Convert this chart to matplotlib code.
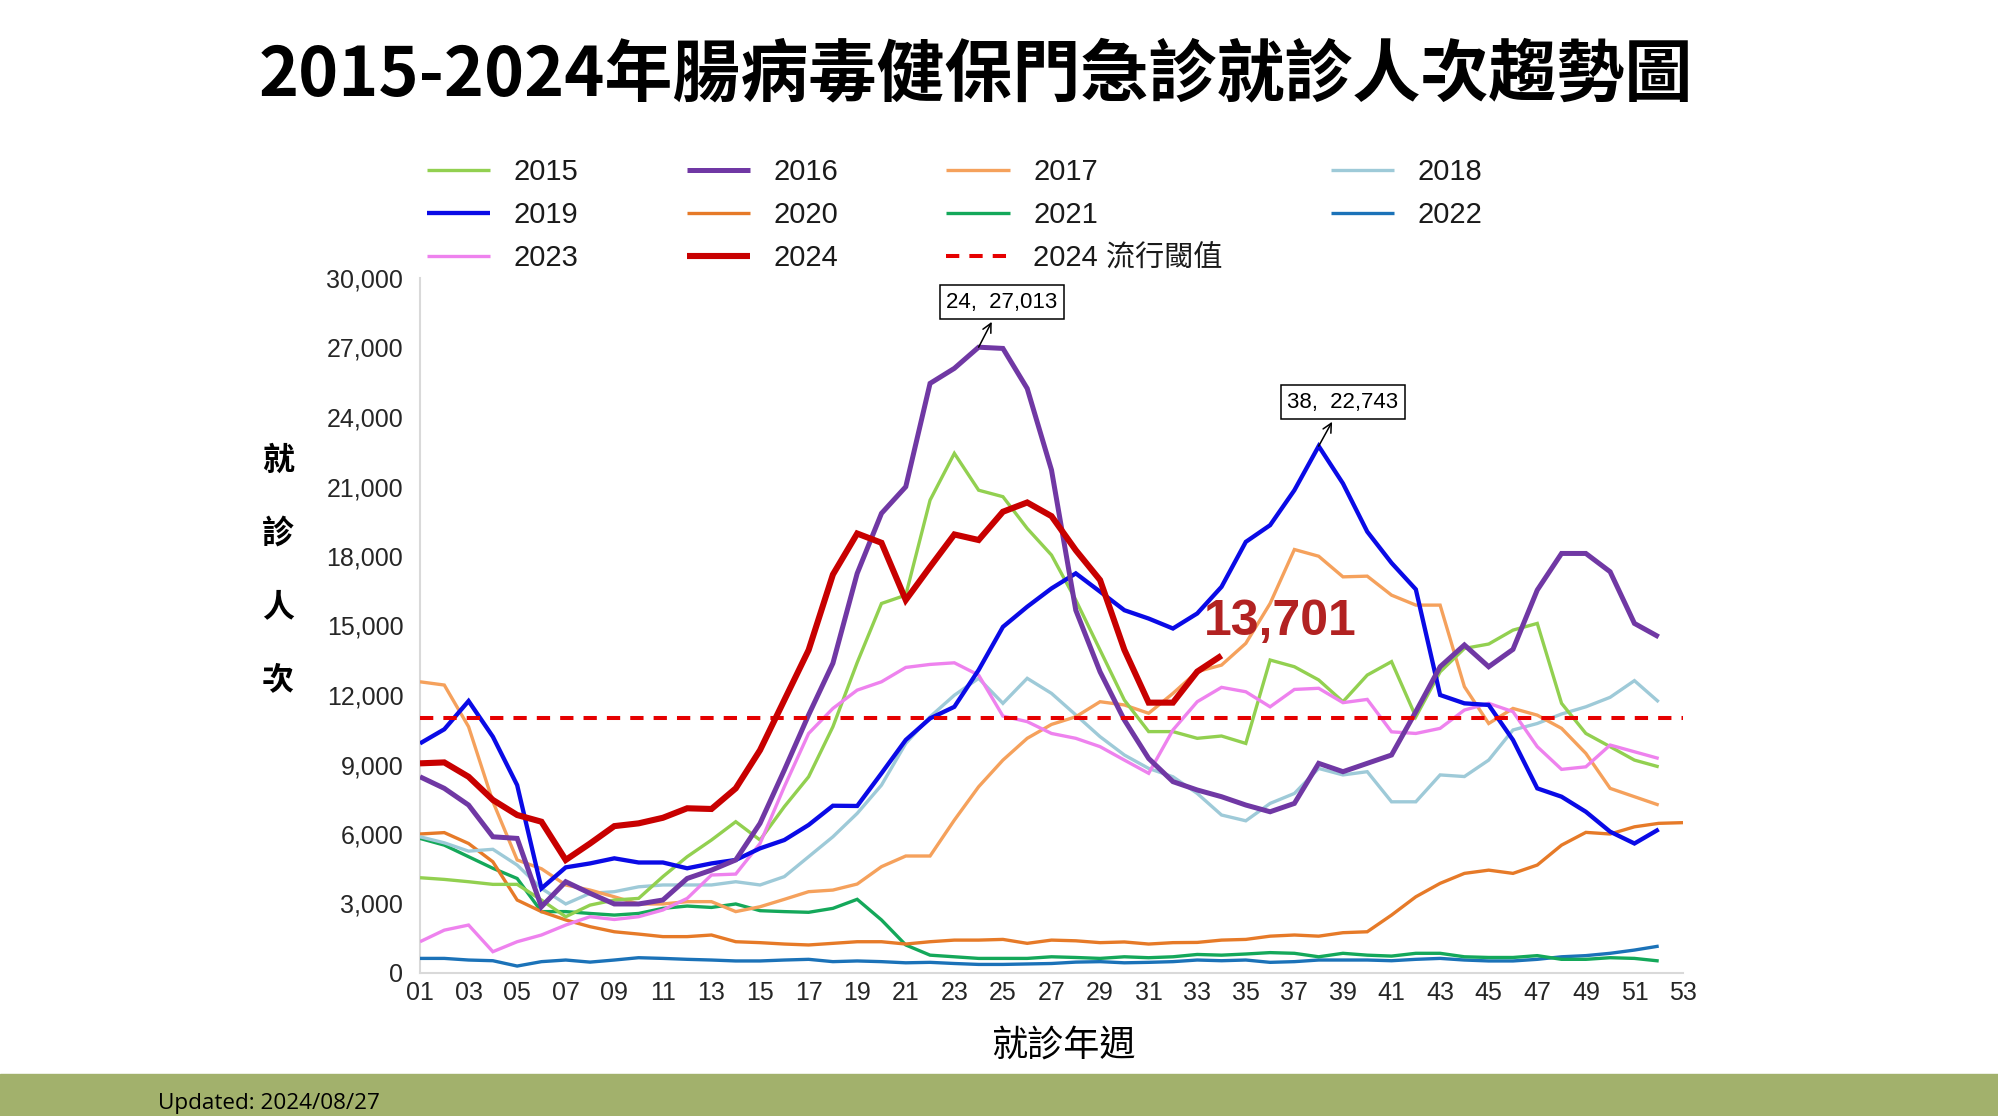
import numpy as np
import matplotlib
matplotlib.use("Agg")
import matplotlib.pyplot as plt
from matplotlib.patches import Rectangle

plt.rcParams['font.family'] = ['Liberation Sans', 'Noto Sans CJK TC', 'DejaVu Sans']

# ---------------- data ----------------
y2015 = [4113, 4040, 3940, 3826, 3826, 3150, 2430, 2930, 3150, 3220, 4160, 5020, 5740, 6530, 5740, 7180,
         8470, 10630, 13400, 15950, 16310, 20410, 22430, 20840, 20560, 19190, 18040, 16100, 13940, 11780,
         10420, 10420, 10130, 10230, 9910, 13510, 13220, 12650, 11710, 12860, 13440, 11060, 13000, 14010,
         14200, 14800, 15090, 11640, 10340, 9770, 9190, 8900]
y2016 = [8470, 7970, 7250, 5880, 5810, 2860, 3940, 3440, 2980, 2980, 3150, 4080, 4440, 4880, 6460, 8760,
         11140, 13370, 17250, 19840, 20990, 25450, 26100, 27013, 26960, 25230, 21710, 15660, 13000, 10920,
         9260, 8260, 7900, 7610, 7250, 6960, 7320, 9050, 8690, 9050, 9410, 11280, 13220, 14160, 13220,
         13970, 16530, 18110, 18110, 17320, 15090, 14510]
y2017 = [12570, 12430, 10630, 7400, 4880, 4500, 3800, 3580, 3290, 2980, 2980, 3080, 3080, 2650, 2860, 3180,
         3510, 3580, 3840, 4590, 5050, 5050, 6600, 8040, 9190, 10130, 10730, 11060, 11710, 11570, 11210,
         12070, 13010, 13290, 14230, 15950, 18280, 17990, 17100, 17130, 16310, 15880, 15880, 12360, 10770,
         11420, 11130, 10560, 9480, 7970, 7610, 7250]
y2018 = [5880, 5620, 5260, 5340, 4660, 3650, 2980, 3440, 3510, 3720, 3800, 3800, 3800, 3940, 3800, 4160,
         5020, 5880, 6890, 8110, 9910, 11060, 11990, 12720, 11640, 12720, 12070, 11140, 10200, 9410, 8830,
         8470, 7750, 6820, 6570, 7320, 7750, 8830, 8550, 8690, 7390, 7390, 8550, 8480, 9190, 10490, 10770,
         11180, 11490, 11900, 12620, 11700]
y2019 = [9910, 10520, 11740, 10200, 8110, 3650, 4560, 4730, 4950, 4770, 4770, 4520, 4730, 4880, 5380, 5740,
         6390, 7220, 7210, 8620, 10060, 10990, 11490, 13080, 14940, 15810, 16600, 17250, 16460, 15660,
         15300, 14870, 15520, 16670, 18610, 19330, 20840, 22743, 21130, 19050, 17700, 16560, 12000, 11640,
         11570, 10060, 7970, 7610, 6960, 6100, 5590, 6200]
y2020 = [6000, 6060, 5590, 4800, 3150, 2650, 2290, 2000, 1780, 1680, 1570, 1570, 1640, 1350, 1310, 1250,
         1210, 1280, 1350, 1350, 1250, 1350, 1420, 1420, 1450, 1280, 1420, 1390, 1310, 1340, 1250, 1310,
         1320, 1420, 1450, 1590, 1640, 1590, 1740, 1780, 2500, 3290, 3870, 4300, 4440, 4300, 4660, 5520,
         6070, 6000, 6310, 6460, 6490]
y2021 = [5810, 5520, 5020, 4520, 4080, 2650, 2650, 2570, 2500, 2570, 2790, 2890, 2830, 2980, 2690, 2650,
         2620, 2790, 3180, 2290, 1210, 770, 700, 630, 630, 630, 700, 670, 630, 700, 660, 700, 800, 770,
         820, 880, 850, 700, 850, 770, 730, 850, 850, 700, 670, 670, 750, 590, 590, 660, 630, 520]
y2022 = [630, 630, 560, 530, 300, 490, 560, 470, 560, 660, 630, 590, 560, 520, 520, 560, 590, 490, 520,
         490, 440, 460, 410, 370, 370, 390, 410, 470, 490, 440, 460, 490, 560, 530, 560, 460, 490, 560,
         560, 560, 530, 590, 630, 560, 520, 520, 590, 700, 750, 850, 990, 1160]
y2023 = [1350, 1850, 2070, 920, 1350, 1640, 2070, 2430, 2310, 2430, 2720, 3220, 4230, 4270, 5590, 8040,
         10340, 11420, 12210, 12570, 13190, 13320, 13390, 12860, 11090, 10850, 10340, 10130, 9770, 9190,
         8620, 10490, 11710, 12330, 12140, 11490, 12240, 12290, 11670, 11810, 10410, 10340, 10560, 11350,
         11640, 11280, 9770, 8790, 8900, 9840, 9550, 9260]
y2024 = [9050, 9090, 8470, 7470, 6820, 6530, 4880, 5590, 6340, 6460, 6700, 7110, 7080, 7970, 9620, 11780,
         13940, 17200, 18970, 18570, 16100, 17530, 18930, 18690, 19910, 20310, 19720, 18250, 16960, 13950,
         11670, 11670, 13010, 13701]
threshold_2024 = 11000

years = ['2015', '2016', '2017', '2018', '2019', '2020', '2021', '2022', '2023', '2024']
series = {'2015': y2015, '2016': y2016, '2017': y2017, '2018': y2018, '2019': y2019,
          '2020': y2020, '2021': y2021, '2022': y2022, '2023': y2023, '2024': y2024}
x_ticks = list(range(1, 54, 2))
x_tick_labels = [f"{w:02d}" for w in x_ticks]
y_ticks = list(range(0, 30001, 3000))

peak_2016 = (24, 27013)
peak_2019 = (38, 22743)
latest_2024 = 13701

# ---------------- styles ----------------
colors = {'2015': '#92D050', '2016': '#7038A4', '2017': '#F5A15C', '2018': '#9ECAD8',
          '2019': '#0A0AE6', '2020': '#E67A28', '2021': '#14A85A', '2022': '#1B72B8',
          '2023': '#EE82EE', '2024': '#C80000'}
widths = {'2015': 2.4, '2016': 3.6, '2017': 2.4, '2018': 2.4, '2019': 3.1, '2020': 2.4,
          '2021': 2.4, '2022': 2.4, '2023': 2.4, '2024': 4.4}
draw_order = ['2022', '2021', '2020', '2018', '2017', '2015', '2023', '2019', '2016', '2024']

W, H = 1998, 1116
fig = plt.figure(figsize=(W / 100, H / 100), dpi=100)
fig.patch.set_facecolor('white')

ax = fig.add_axes([420 / W, 1 - 973 / H, (1683 - 420) / W, (973 - 278) / H])

lines = {}
for yr in draw_order:
    vals = series[yr]
    wk = np.arange(1, len(vals) + 1)
    ln, = ax.plot(wk, vals, color=colors[yr], lw=widths[yr], solid_joinstyle='miter',
                  solid_capstyle='butt', label=yr, zorder=3)
    lines[yr] = ln

thr = ax.axhline(threshold_2024, color='#E60000', lw=2.9, dashes=(3.3, 2.5), zorder=5,
                 label='2024 流行閾值')
lines['2024'].set_zorder(6)

ax.set_xlim(1, 53)
ax.set_ylim(0, 30000)
ax.set_xticks(x_ticks)
ax.set_xticklabels(x_tick_labels)
ax.set_yticks(y_ticks)
ax.set_yticklabels([f"{v:,}" for v in y_ticks])
ax.tick_params(axis='both', length=0, labelsize=18, colors='#262626')
ax.tick_params(axis='x', pad=6)
ax.tick_params(axis='y', pad=12)
for s in ['top', 'right']:
    ax.spines[s].set_visible(False)
for s in ['left', 'bottom']:
    ax.spines[s].set_color('#D9D9D9')
    ax.spines[s].set_linewidth(1.5)

# annotations
box = dict(boxstyle='square,pad=0.28', fc='white', ec='black', lw=1.1)
ax.annotate(f"{peak_2016[0]},  {peak_2016[1]:,}", xy=peak_2016, xytext=(24.96, 28960),
            textcoords='data', ha='center', va='center', fontsize=16, bbox=box,
            arrowprops=dict(arrowstyle='<-', color='black', lw=1.1, shrinkA=2, shrinkB=0), zorder=10)
ax.annotate(f"{peak_2019[0]},  {peak_2019[1]:,}", xy=peak_2019, xytext=(39.0, 24644),
            textcoords='data', ha='center', va='center', fontsize=16, bbox=box,
            arrowprops=dict(arrowstyle='<-', color='black', lw=1.1, shrinkA=2, shrinkB=0), zorder=10)
ax.text(36.4, 15149, f"{latest_2024:,}", color='#B22222', fontsize=36, fontweight='bold',
        ha='center', va='center', zorder=10)

# legend (row-wise order via column filling)
order = ['2015', '2019', '2023', '2016', '2020', '2024', '2017', '2021', None, '2018', '2022']
handles, labels = [], []
for k in order:
    if k is None:
        handles.append(thr)
        labels.append('2024 流行閾值')
    else:
        handles.append(lines[k])
        labels.append(k)
fig.legend(handles, labels, ncol=4, loc='upper left', bbox_to_anchor=(427 / W, 1 - 158 / H),
           frameon=False, fontsize=21, handlelength=2.17, handletextpad=0.81, columnspacing=3.7,
           labelspacing=0.52, borderpad=0, borderaxespad=0, labelcolor='#1a1a1a')

# title
fig.text(976 / W, 1 - 76 / H, '2015-2024年腸病毒健保門急診就診人次趨勢圖', ha='center', va='center',
         fontsize=49, fontweight='bold', family=['Noto Sans CJK TC'], color='black')

# y label (vertical stacked)
for i, ch in enumerate(['就', '診', '人', '次']):
    fig.text(278 / W, 1 - (461 + i * 73) / H, ch, ha='center', va='center', fontsize=23,
             fontweight='bold', family=['Noto Sans CJK TC'], color='black')

# x label
fig.text(1063 / W, 1 - 1046 / H, '就診年週', ha='center', va='center', fontsize=26,
         family=['Noto Sans CJK TC'], color='black')

# footer band
fig.patches.append(Rectangle((0, 0), 1, 42 / H, transform=fig.transFigure, color='#A2B16C',
                             zorder=0))
fig.text(158 / W, 1 - 1104 / H, 'Updated: 2024/08/27', ha='left', va='center', fontsize=16.2,
         family=['Open Sans'], color='black')

fig.savefig('out.png', dpi=100)
